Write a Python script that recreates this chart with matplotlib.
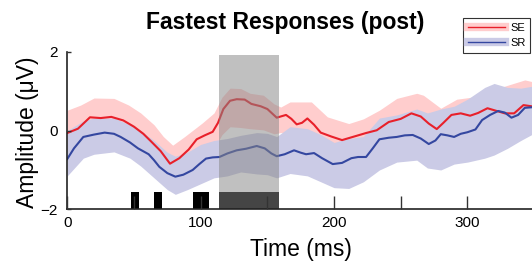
import numpy as np
import matplotlib
matplotlib.use("Agg")
import matplotlib.pyplot as plt
from matplotlib.lines import Line2D

plt.rcParams['font.family'] = ['Liberation Sans', 'DejaVu Sans']

# --- data ---
se_t = [0, 8, 17, 25, 33, 42, 50, 57, 63, 70, 77, 84, 91, 97, 103, 109, 113, 117, 122, 127,
        133, 138, 145, 150, 157, 164, 168, 172, 176, 180, 185, 190, 198, 206, 214, 224, 232,
        241, 250, 258, 265, 271, 277, 282, 288, 295, 302, 308, 315, 322, 328, 335, 342, 348, 352]
se_y = [-0.06, 0.05, 0.34, 0.32, 0.35, 0.26, 0.10, -0.08, -0.28, -0.52, -0.84, -0.70, -0.48,
        -0.22, -0.12, -0.03, 0.20, 0.55, 0.76, 0.80, 0.79, 0.68, 0.62, 0.55, 0.33, 0.40, 0.30,
        0.16, 0.20, 0.31, 0.15, -0.05, -0.15, -0.24, -0.16, -0.06, 0.01, 0.22, 0.30, 0.44, 0.36,
        0.18, 0.04, 0.20, 0.40, 0.44, 0.38, 0.45, 0.57, 0.50, 0.44, 0.44, 0.65, 0.62, 0.58]

sr_t = [0, 5, 12, 20, 28, 35, 40, 47, 53, 61, 65, 69, 75, 81, 87, 94, 99, 104, 109, 114, 120,
        127, 134, 142, 148, 153, 157, 163, 170, 175, 179, 185, 191, 199, 206, 213, 218, 224,
        229, 234, 241, 247, 253, 259, 265, 271, 276, 280, 285, 290, 295, 300, 306, 311, 317,
        323, 328, 333, 338, 343, 350]
sr_y = [-0.72, -0.45, -0.16, -0.10, -0.05, -0.08, -0.16, -0.30, -0.45, -0.60, -0.75, -0.92,
        -1.08, -1.17, -1.12, -1.00, -0.85, -0.71, -0.68, -0.67, -0.58, -0.50, -0.46, -0.39,
        -0.45, -0.58, -0.65, -0.60, -0.50, -0.56, -0.60, -0.57, -0.70, -0.85, -0.82, -0.70,
        -0.67, -0.67, -0.45, -0.22, -0.18, -0.16, -0.12, -0.11, -0.20, -0.34, -0.25, -0.09,
        -0.12, -0.16, -0.08, -0.04, 0.03, 0.27, 0.40, 0.50, 0.46, 0.33, 0.40, 0.58, 0.60]

se_band_t = [0, 10, 20, 35, 46, 55, 65, 72, 79, 88, 101, 110, 116, 122, 130, 137, 147, 155,
             160, 167, 173, 183, 195, 211, 222, 234, 247, 262, 267, 280, 292, 303, 313, 325,
             343, 352]
se_hi = [0.52, 0.65, 0.83, 0.82, 0.65, 0.45, 0.15, -0.15, -0.37, -0.15, 0.19, 0.45, 0.85,
         1.08, 1.07, 0.95, 0.90, 0.68, 0.60, 0.73, 0.73, 0.73, 0.35, 0.18, 0.30, 0.52, 0.82,
         0.95, 0.90, 0.57, 0.80, 0.85, 1.03, 1.10, 1.29, 1.22]
se_lo = [-0.5, -0.3, -0.1, -0.1, -0.25, -0.45, -0.75, -1.0, -1.3, -1.1, -0.6, -0.45, -0.1,
         0.1, 0.08, 0.05, 0.02, -0.08, -0.05, -0.05, -0.2, -0.1, -0.5, -0.65, -0.5, -0.25,
         -0.15, -0.05, -0.15, -0.4, -0.05, -0.1, 0.1, 0.0, 0.1, 0.05]

sr_band_t = [0, 12, 20, 35, 47, 55, 65, 75, 81, 90, 100, 110, 120, 130, 142, 150, 157, 167,
             180, 190, 200, 211, 222, 234, 247, 262, 270, 280, 290, 300, 313, 320, 330, 340, 352]
sr_hi = [0.0, 0.25, 0.32, 0.32, 0.15, 0.0, -0.25, -0.55, -0.65, -0.55, -0.35, -0.25, -0.2,
         -0.12, -0.05, -0.07, -0.15, 0.1, 0.05, -0.1, -0.3, -0.2, -0.15, 0.32, 0.4, 0.55, 0.45,
         0.55, 0.62, 0.8, 1.1, 1.2, 1.1, 1.08, 1.15]
sr_lo = [-1.15, -0.7, -0.6, -0.54, -0.7, -0.9, -1.2, -1.5, -1.62, -1.5, -1.35, -1.2, -1.15,
         -1.05, -1.1, -1.12, -1.2, -1.09, -1.15, -1.3, -1.45, -1.47, -1.3, -1.0, -0.8, -0.75,
         -0.95, -1.0, -0.85, -0.8, -0.7, -0.62, -0.45, -0.25, -0.03]

# significant time windows (ms)
sig_start = [48, 65, 94.5, 114]
sig_end = [53.5, 71, 106, 159]
win_start, win_end = 114, 159

RED = '#e8202a'
BLUE = '#3447a0'
PINK = '#ffcdcd'
LAV = '#cbcbe6'

fig = plt.figure(figsize=(5.32, 2.62), dpi=100)
ax = fig.add_axes([67.3 / 532, 1 - 209.3 / 262, 1 - 67.3 / 532, (209.3 - 52) / 262])

ax.fill_between(se_band_t, se_lo, se_hi, color=PINK, lw=0, zorder=1)
ax.fill_between(sr_band_t, sr_lo, sr_hi, color=LAV, lw=0, zorder=1.1)
ax.plot(se_t, se_y, color=RED, lw=1.5, zorder=2)
ax.plot(sr_t, sr_y, color=BLUE, lw=1.5, zorder=2)

for s, e in zip(sig_start, sig_end):
    ax.bar(s, 0.45, width=e - s, bottom=-2, align='edge', color='black', lw=0, zorder=1.5)
ax.bar(win_start, 3.92, width=win_end - win_start, bottom=-2, align='edge',
       color='#868686', alpha=0.52, lw=0, zorder=2.2)

ax.set_xlim(0, 348.4)
ax.set_ylim(-2, 2)
ax.set_xticks([0, 100, 200, 300])
ax.set_xticks([50, 150, 250], minor=True)
ax.set_yticks([-2, 0, 2])
ax.set_axisbelow(False)
ax.tick_params(axis='x', which='both', direction='in', length=9.5, width=1,
               color='#333333', labelsize=11, pad=5)
ax.tick_params(axis='y', direction='in', length=3, width=1, color='#333333',
               labelsize=11, pad=7)
for side in ['top', 'right']:
    ax.spines[side].set_visible(False)
for side in ['left', 'bottom']:
    ax.spines[side].set_linewidth(1.2)
    ax.spines[side].set_color('#222222')

fig.text(0.536, 0.914, 'Fastest Responses (post)', ha='center', va='center',
         fontsize=16.5, fontweight='bold')
fig.text(0.566, 0.046, 'Time (ms)', ha='center', va='center', fontsize=16.5)
fig.text(0.051, 0.494, 'Amplitude (μV)', ha='center', va='center', rotation=90, fontsize=16.5)

h_se = (Line2D([], [], color=PINK, lw=6), Line2D([], [], color=RED, lw=1))
h_sr = (Line2D([], [], color=LAV, lw=6), Line2D([], [], color=BLUE, lw=1))
leg = fig.legend([h_se, h_sr], ['SE', 'SR'], loc='upper left', bbox_to_anchor=(0.871, 0.930),
                 fontsize=8, frameon=True, fancybox=False, handlelength=3.3,
                 borderpad=0.45, labelspacing=0.45, handletextpad=0.45, borderaxespad=0)
leg.get_frame().set_edgecolor('black')
leg.get_frame().set_linewidth(0.8)

fig.savefig('out.png', dpi=100)
